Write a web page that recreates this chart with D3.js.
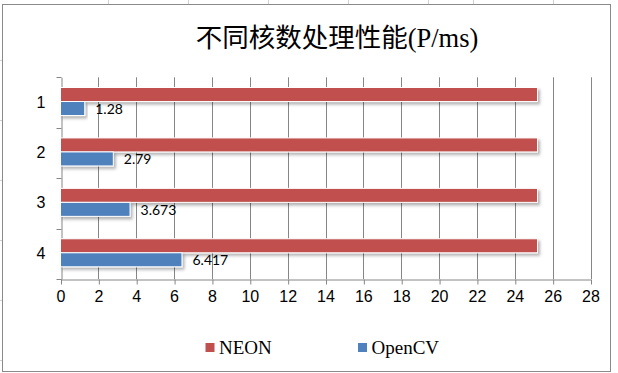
<!DOCTYPE html>
<html>
<head>
<meta charset="utf-8">
<script src="https://cdn.jsdelivr.net/npm/d3@7"></script>
<style>
  html, body { margin: 0; padding: 0; background: #fff; }
  svg { display: block; }
</style>
</head>
<body>
<div id="chart"></div>
<script>
// data
var categories = ["1", "2", "3", "4"];
var seriesNames = ["NEON", "OpenCV"];
var neonValues = [25.2, 25.2, 25.2, 25.2];
var opencvValues = [1.28, 2.79, 3.673, 6.417];
var xTicks = [0, 2, 4, 6, 8, 10, 12, 14, 16, 18, 20, 22, 24, 26, 28];
var sheetCols = [108, 188, 268, 348, 428, 473, 553];   // faint spreadsheet cells behind the chart
var COLORS = { "NEON": "#C0504D", "OpenCV": "#4F81BD" };

var WIDTH = 618, HEIGHT = 373;
var LEFT = 60.5, RIGHT = 590.5, TOP = 77.3, BOTTOM = 279;

var svg = d3.select("#chart").append("svg")
  .attr("width", WIDTH)
  .attr("height", HEIGHT);

var defs = svg.append("defs");
var shadow = defs.append("filter").attr("id", "shadow")
  .attr("x", "-5%").attr("y", "-30%").attr("width", "115%").attr("height", "180%");
shadow.append("feDropShadow")
  .attr("dx", 2).attr("dy", 2.5)
  .attr("stdDeviation", 1.6)
  .attr("flood-color", "#000")
  .attr("flood-opacity", 0.3);

// spreadsheet leftovers outside the chart frame
sheetCols.forEach(function(cx){
  svg.append("line")
    .attr("x1", cx + 0.5).attr("x2", cx + 0.5)
    .attr("y1", 0).attr("y2", 4)
    .attr("stroke", "#d0d0d0");
});
[60, 120, 180, 240, 300, 360].forEach(function(cy){
  svg.append("line")
    .attr("x1", 0).attr("x2", 2)
    .attr("y1", cy + 0.5).attr("y2", cy + 0.5)
    .attr("stroke", "#d0d0d0");
});

// chart frame
svg.append("rect")
  .attr("x", 2.5).attr("y", 4.5)
  .attr("width", 608).attr("height", 367)
  .attr("fill", "#fff")
  .attr("stroke", "#8a8a8a");

// title
svg.append("text")
  .attr("x", 337).attr("y", 47)
  .attr("text-anchor", "middle")
  .style("font-family", "'Liberation Serif', 'Noto Sans CJK SC', serif")
  .style("font-size", "26.5px")
  .style("fill", "#000")
  .text("不同核数处理性能(P/ms)");

var x = d3.scaleLinear().domain([0, 28]).range([LEFT, RIGHT]);
var y = d3.scaleBand().domain(categories).range([TOP, BOTTOM]).padding(0);
var yInner = d3.scaleBand().domain(seriesNames).range([-1, y.bandwidth() - 1])
  .paddingInner(0).paddingOuter(0.8);

// gridlines
svg.append("g").selectAll("line")
  .data(xTicks.slice(1))
  .enter().append("line")
  .attr("x1", function(d){ return Math.round(x(d)) + 0.5; })
  .attr("x2", function(d){ return Math.round(x(d)) + 0.5; })
  .attr("y1", TOP).attr("y2", BOTTOM)
  .attr("stroke", "#868686");

// x axis
var xAxis = svg.append("g")
  .attr("transform", "translate(0," + (Math.round(BOTTOM) + 0.5) + ")")
  .call(d3.axisBottom(x).tickValues(xTicks).tickSize(5).tickSizeOuter(0).tickPadding(6));
xAxis.select(".domain").attr("stroke", "#868686");
xAxis.selectAll(".tick line").attr("stroke", "#868686")
  .attr("transform", function(){ return "translate(0.5,0)"; });
xAxis.selectAll("text")
  .style("font-family", "'Liberation Sans', Arial, sans-serif")
  .style("font-size", "16px")
  .style("fill", "#000");

// y axis
var yAxis = svg.append("g")
  .attr("transform", "translate(" + (Math.round(LEFT) + 0.5) + ",0)")
  .call(d3.axisLeft(y).tickSize(0).tickPadding(16));
yAxis.select(".domain").attr("stroke", "#868686");
yAxis.selectAll("text")
  .style("font-family", "'Liberation Sans', Arial, sans-serif")
  .style("font-size", "16px")
  .style("fill", "#000");
// category boundary ticks
yAxis.append("g").selectAll("line")
  .data(categories.concat(["end"]))
  .enter().append("line")
  .attr("x1", -5).attr("x2", 0)
  .attr("y1", function(d, i){ return Math.round(TOP + i * y.step()) + 0.5; })
  .attr("y2", function(d, i){ return Math.round(TOP + i * y.step()) + 0.5; })
  .attr("stroke", "#868686");

// bars
var rows = categories.map(function(c, i){
  return [
    { cat: c, series: "NEON", value: neonValues[i] },
    { cat: c, series: "OpenCV", value: opencvValues[i] }
  ];
});
var flat = [].concat.apply([], rows);

svg.append("g").selectAll("rect")
  .data(flat)
  .enter().append("rect")
  .attr("x", x(0))
  .attr("y", function(d){ return y(d.cat) + yInner(d.series); })
  .attr("width", function(d){ return x(d.value) - x(0); })
  .attr("height", yInner.bandwidth())
  .attr("fill", function(d){ return COLORS[d.series]; })
  .attr("stroke", "#fff")
  .attr("stroke-width", 1)
  .attr("filter", "url(#shadow)");

// data labels on OpenCV
svg.append("g").selectAll("text")
  .data(flat.filter(function(d){ return d.series == "OpenCV"; }))
  .enter().append("text")
  .attr("x", function(d){ return x(d.value) + 10.5; })
  .attr("y", function(d){ return y(d.cat) + yInner(d.series) + yInner.bandwidth() / 2 + 2; })
  .attr("dominant-baseline", "middle")
  .style("font-family", "Lato, 'Open Sans', sans-serif")
  .style("font-size", "14px")
  .style("fill", "#000")
  .text(function(d){ return d.value; });

// legend
var legendX = [205.5, 358];
var legend = svg.append("g").selectAll("g")
  .data(seriesNames)
  .enter().append("g")
  .attr("transform", function(d, i){ return "translate(" + legendX[i] + ",343)"; });
legend.append("rect")
  .attr("width", 9).attr("height", 9)
  .attr("fill", function(d){ return COLORS[d]; });
legend.append("text")
  .attr("x", 13.5).attr("y", 10.5)
  .style("font-family", "'Liberation Serif', serif")
  .style("font-size", "19px")
  .style("fill", "#000")
  .text(function(d){ return d; });
</script>
</body>
</html>
